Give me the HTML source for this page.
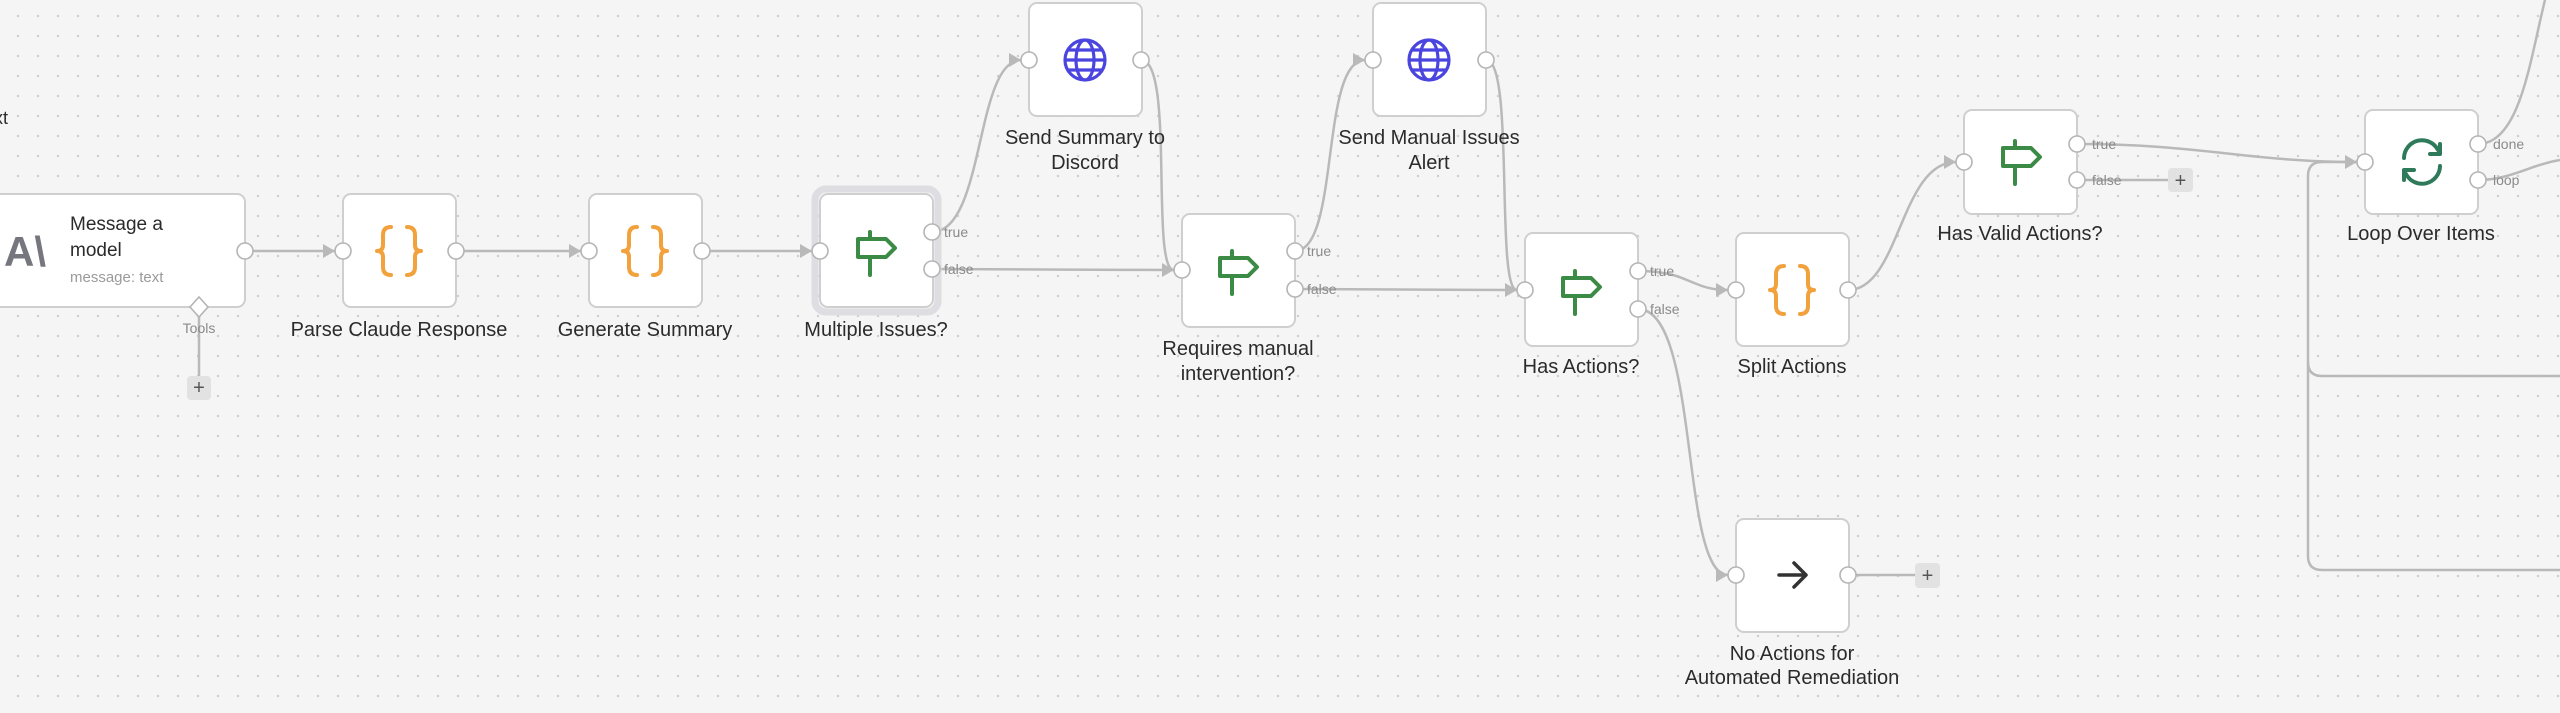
<!DOCTYPE html>
<html><head><meta charset="utf-8"><style>
html,body{margin:0;padding:0;}
body{width:2560px;height:713px;overflow:hidden;background-color:#f5f5f5;background-image:radial-gradient(circle,#cfcfcf 1.1px,transparent 1.4px);background-size:20px 20px;background-position:8px 6px;font-family:"Liberation Sans",sans-serif;}
svg{position:absolute;left:0;top:0;}
.lbl{font-size:20px;fill:#2b2b2b;text-anchor:middle;}
.pl{font-size:14px;fill:#8a8a8a;}
.edge{fill:none;stroke:#b9b9b9;stroke-width:2.5;}
.node{fill:#fff;stroke:#cfcfcf;stroke-width:2;}
.port{fill:#fff;stroke:#b5b5b5;stroke-width:1.6;}
.arr{fill:#b9b9b9;}
</style></head><body>
<svg width="2560" height="713" viewBox="0 0 2560 713">
<defs>
<g id="sign"><path d="M-18,-12 H10 L19,-3 L10,6 H-18 Z M-6,-19 V-12 M-6,6 V24" fill="none" stroke="#3b8a45" stroke-width="4" stroke-linejoin="round" stroke-linecap="round"/></g>
<g id="globe" fill="none" stroke="#4b45e0" stroke-width="3.2"><circle r="20"/><ellipse rx="9" ry="20"/><path d="M-20,0H20M-17,-10H17M-17,10H17"/></g>
<g id="brace" fill="none" stroke="#f2a23c" stroke-width="4" stroke-linecap="round" stroke-linejoin="round">
<path d="M-8,-24 Q-16,-24 -16,-16 V-6 Q-16,0 -22,0 Q-16,0 -16,6 V16 Q-16,24 -8,24"/>
<path d="M8,-24 Q16,-24 16,-16 V-6 Q16,0 22,0 Q16,0 16,6 V16 Q16,24 8,24"/>
</g>
</defs>

<!-- edges -->
<path class="edge" d="M245,251 H335"/>
<path class="edge" d="M456,251 H581"/>
<path class="edge" d="M702,251 H812"/>
<path class="edge" d="M932,232 C985,232 975,60 1021,60"/>
<path class="edge" d="M932,269 C1050,269 1100,270 1174,270"/>
<path class="edge" d="M1141,60 C1175,60 1150,270 1174,270"/>
<path class="edge" d="M1295,251 C1340,251 1320,60 1365,60"/>
<path class="edge" d="M1295,289 C1400,289 1450,290 1517,290"/>
<path class="edge" d="M1486,60 C1515,60 1495,290 1517,290"/>
<path class="edge" d="M1638,271 C1690,271 1690,290 1728,290"/>
<path class="edge" d="M1638,309 C1700,309 1680,575 1728,575"/>
<path class="edge" d="M1848,290 C1900,290 1900,162 1956,162"/>
<path class="edge" d="M2077,144 C2200,144 2250,162 2357,162"/>
<path class="edge" d="M2077,180 H2170"/>
<path class="edge" d="M1848,575 H1915"/>
<path class="edge" d="M2478,144 C2520,144 2530,60 2545,0"/>
<path class="edge" d="M2478,180 C2510,180 2530,165 2560,160"/>
<path class="edge" d="M2357,162 H2322 Q2308,162 2308,176 V556 Q2308,570 2322,570 H2560"/>
<path class="edge" d="M2560,376 H2322 Q2308,376 2308,362"/>
<path class="edge" d="M199,315 V378"/>
<!-- arrowheads -->
<g class="arr">
<path d="M335,251 l-12,-7 v14z"/><path d="M581,251 l-12,-7 v14z"/><path d="M812,251 l-12,-7 v14z"/>
<path d="M1021,60 l-12,-7 v14z"/><path d="M1174,270 l-12,-7 v14z"/><path d="M1365,60 l-12,-7 v14z"/>
<path d="M1517,290 l-12,-7 v14z"/><path d="M1728,290 l-12,-7 v14z"/><path d="M1728,575 l-12,-7 v14z"/>
<path d="M1956,162 l-12,-7 v14z"/><path d="M2357,162 l-12,-7 v14z"/>
</g>

<text x="-6" y="124" font-size="18" fill="#2b2b2b">xt</text>

<!-- Message a model -->
<rect class="node" x="-10" y="194" width="255" height="113" rx="8"/>
<text x="4" y="266" font-size="42" fill="#76767e" font-weight="bold">A\</text>
<text x="70" y="230" font-size="19" fill="#2b2b2b">Message a</text>
<text x="70" y="256" font-size="19" fill="#2b2b2b">model</text>
<text x="70" y="282" font-size="15" fill="#9a9a9a">message: text</text>
<path d="M199,297 l9,10 l-9,10 l-9,-10z" fill="#fff" stroke="#b5b5b5" stroke-width="1.6"/>
<text x="199" y="333" font-size="14" fill="#8a8a8a" text-anchor="middle">Tools</text>
<rect x="187" y="376" width="24" height="24" rx="4" fill="#e2e2e2"/>
<text x="199" y="394" font-size="20" fill="#555" text-anchor="middle">+</text>
<circle class="port" cx="245" cy="251" r="8"/>

<!-- Parse Claude Response -->
<rect class="node" x="343" y="194" width="113" height="113" rx="8"/>
<use href="#brace" x="399" y="251"/>
<circle class="port" cx="343" cy="251" r="8"/><circle class="port" cx="456" cy="251" r="8"/>
<text class="lbl" x="399" y="336">Parse Claude Response</text>

<!-- Generate Summary -->
<rect class="node" x="589" y="194" width="113" height="113" rx="8"/>
<use href="#brace" x="645" y="251"/>
<circle class="port" cx="589" cy="251" r="8"/><circle class="port" cx="702" cy="251" r="8"/>
<text class="lbl" x="645" y="336">Generate Summary</text>

<!-- Multiple Issues -->
<rect x="815" y="189" width="123" height="123" rx="11" fill="none" stroke="#dddde2" stroke-width="7"/>
<rect class="node" x="820" y="194" width="113" height="113" rx="8"/>
<use href="#sign" x="876" y="251"/>
<circle class="port" cx="820" cy="251" r="8"/><circle class="port" cx="932" cy="232" r="8"/><circle class="port" cx="932" cy="269" r="8"/>
<text class="pl" x="944" y="237">true</text><text class="pl" x="944" y="274">false</text>
<text class="lbl" x="876" y="336">Multiple Issues?</text>

<!-- Send Summary to Discord -->
<rect class="node" x="1029" y="3" width="113" height="113" rx="8"/>
<use href="#globe" x="1085" y="60"/>
<circle class="port" cx="1029" cy="60" r="8"/><circle class="port" cx="1141" cy="60" r="8"/>
<text class="lbl" x="1085" y="144">Send Summary to</text><text class="lbl" x="1085" y="169">Discord</text>

<!-- Requires manual intervention -->
<rect class="node" x="1182" y="214" width="113" height="113" rx="8"/>
<use href="#sign" x="1238" y="270"/>
<circle class="port" cx="1182" cy="270" r="8"/><circle class="port" cx="1295" cy="251" r="8"/><circle class="port" cx="1295" cy="289" r="8"/>
<text class="pl" x="1307" y="256">true</text><text class="pl" x="1307" y="294">false</text>
<text class="lbl" x="1238" y="355">Requires manual</text><text class="lbl" x="1238" y="380">intervention?</text>

<!-- Send Manual Issues Alert -->
<rect class="node" x="1373" y="3" width="113" height="113" rx="8"/>
<use href="#globe" x="1429" y="60"/>
<circle class="port" cx="1373" cy="60" r="8"/><circle class="port" cx="1486" cy="60" r="8"/>
<text class="lbl" x="1429" y="144">Send Manual Issues</text><text class="lbl" x="1429" y="169">Alert</text>

<!-- Has Actions -->
<rect class="node" x="1525" y="233" width="113" height="113" rx="8"/>
<use href="#sign" x="1581" y="290"/>
<circle class="port" cx="1525" cy="290" r="8"/><circle class="port" cx="1638" cy="271" r="8"/><circle class="port" cx="1638" cy="309" r="8"/>
<text class="pl" x="1650" y="276">true</text><text class="pl" x="1650" y="314">false</text>
<text class="lbl" x="1581" y="373">Has Actions?</text>

<!-- Split Actions -->
<rect class="node" x="1736" y="233" width="113" height="113" rx="8"/>
<use href="#brace" x="1792" y="290"/>
<circle class="port" cx="1736" cy="290" r="8"/><circle class="port" cx="1848" cy="290" r="8"/>
<text class="lbl" x="1792" y="373">Split Actions</text>

<!-- No Actions -->
<rect class="node" x="1736" y="519" width="113" height="113" rx="8"/>
<path d="M1779,575 H1805 M1794,563 L1806,575 L1794,587" fill="none" stroke="#333" stroke-width="3.5" stroke-linecap="round" stroke-linejoin="round"/>
<circle class="port" cx="1736" cy="575" r="8"/><circle class="port" cx="1848" cy="575" r="8"/>
<text class="lbl" x="1792" y="660">No Actions for</text><text class="lbl" x="1792" y="684">Automated Remediation</text>
<rect x="1915" y="563" width="25" height="25" rx="4" fill="#e2e2e2"/>
<text x="1927.5" y="582" font-size="20" fill="#555" text-anchor="middle">+</text>

<!-- Has Valid Actions -->
<rect class="node" x="1964" y="110" width="113" height="104" rx="8"/>
<use href="#sign" x="2021" y="160"/>
<circle class="port" cx="1964" cy="162" r="8"/><circle class="port" cx="2077" cy="144" r="8"/><circle class="port" cx="2077" cy="180" r="8"/>
<text class="pl" x="2092" y="149">true</text><text class="pl" x="2092" y="185">false</text>
<rect x="2168" y="168" width="25" height="24" rx="4" fill="#e2e2e2"/>
<text x="2180.5" y="187" font-size="20" fill="#555" text-anchor="middle">+</text>
<text class="lbl" x="2020" y="240">Has Valid Actions?</text>

<!-- Loop Over Items -->
<rect class="node" x="2365" y="110" width="113" height="104" rx="8"/>
<g fill="none" stroke="#2e7a5a" stroke-width="4" stroke-linecap="round" stroke-linejoin="round">
<path d="M2404,158 A18,18 0 0 1 2438,150 M2440,144 V154 H2430"/>
<path d="M2440,166 A18,18 0 0 1 2406,174 M2404,180 V170 H2414"/>
</g>
<circle class="port" cx="2365" cy="162" r="8"/><circle class="port" cx="2478" cy="144" r="8"/><circle class="port" cx="2478" cy="180" r="8"/>
<text class="pl" x="2493" y="149">done</text><text class="pl" x="2493" y="185">loop</text>
<text class="lbl" x="2421" y="240">Loop Over Items</text>
</svg>
</body></html>
